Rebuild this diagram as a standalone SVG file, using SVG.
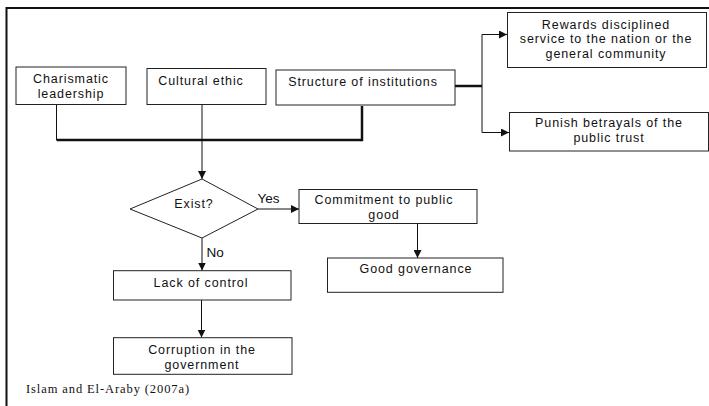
<svg xmlns="http://www.w3.org/2000/svg" width="709" height="406" viewBox="0 0 709 406">
<style>
.box{fill:#fff;stroke:#222;stroke-width:1}
.t{font-family:"Liberation Sans",Arial,sans-serif;font-size:12.5px;letter-spacing:0.9px;fill:#111;text-anchor:middle}
.lbl{font-family:"Liberation Sans",Arial,sans-serif;font-size:13.5px;fill:#111}
.c{fill:none;stroke:#111;stroke-width:1}
.thick{fill:none;stroke:#111;stroke-width:2.5}
.cite{font-family:"Liberation Serif","Times New Roman",serif;font-size:12.5px;letter-spacing:0.9px;fill:#111}
</style>
<defs>
<marker id="ah" markerUnits="userSpaceOnUse" markerWidth="9" markerHeight="8" refX="8" refY="4" orient="auto">
<path d="M0,0 L8,4 L0,8 Z" fill="#111"/>
</marker>
</defs>
<rect width="709" height="406" fill="#fff"/>
<path d="M6.5,406 V8 H709" fill="none" stroke="#111" stroke-width="2"/>

<g id="connectors">
<line class="c" x1="56.5" y1="104" x2="56.5" y2="140"/>
<line class="thick" x1="56.5" y1="140" x2="362" y2="140"/>
<line class="thick" x1="362" y1="106" x2="362" y2="141.2"/>
<line class="c" x1="202" y1="104" x2="202" y2="179" marker-end="url(#ah)"/>
<line class="thick" x1="455" y1="86" x2="482" y2="86"/>
<path class="c" d="M482,86 V34.5 H507" marker-end="url(#ah)"/>
<path class="c" d="M482,86 V132.5 H509" stroke="#555" marker-end="url(#ah)"/>
<line class="c" x1="258" y1="209" x2="299" y2="209" marker-end="url(#ah)"/>
<line class="c" x1="417.5" y1="223" x2="417.5" y2="258" marker-end="url(#ah)"/>
<line class="c" x1="202" y1="238" x2="202" y2="270.5" marker-end="url(#ah)"/>
<line class="c" x1="201.5" y1="300" x2="201.5" y2="337.5" marker-end="url(#ah)"/>
<text class="lbl" x="257.5" y="202.5">Yes</text>
<text class="lbl" x="206.5" y="256.5">No</text>
</g>

<g id="charismatic">
<rect class="box" x="16" y="67" width="110" height="37.5"/>
<text class="t" x="71" y="83.3">Charismatic</text>
<text class="t" x="71" y="98.3">leadership</text>
</g>
<g id="cultural">
<rect class="box" x="147" y="68.5" width="119" height="36"/>
<text class="t" x="201" y="85">Cultural ethic</text>
</g>
<g id="structure">
<rect class="box" x="276" y="70" width="179" height="35"/>
<text class="t" x="363" y="86">Structure of institutions</text>
</g>
<g id="rewards">
<rect class="box" x="507.5" y="12.5" width="199" height="55"/>
<text class="t" x="606" y="29">Rewards disciplined</text>
<text class="t" x="606" y="43.3">service to the nation or the</text>
<text class="t" x="606" y="57.7">general community</text>
</g>
<g id="punish">
<rect class="box" x="509.5" y="112.5" width="199" height="38.5"/>
<text class="t" x="609" y="126.7">Punish betrayals of the</text>
<text class="t" x="609" y="141.7">public trust</text>
</g>
<g id="exist">
<polygon points="202,179 258,209 202,238 130,209" fill="#fff" stroke="#222" stroke-width="1"/>
<text class="t" x="194" y="208.3">Exist?</text>
</g>
<g id="commitment">
<rect class="box" x="299" y="189.5" width="178" height="34"/>
<text class="t" x="384" y="204">Commitment to public</text>
<text class="t" x="384" y="219.3">good</text>
</g>
<g id="good-governance">
<rect class="box" x="327.5" y="258" width="175.5" height="34.3"/>
<text class="t" x="416" y="273.3">Good governance</text>
</g>
<g id="lack">
<rect class="box" x="113.5" y="270.7" width="177.5" height="29.3"/>
<text class="t" x="201" y="286.7">Lack of control</text>
</g>
<g id="corruption">
<rect class="box" x="113.5" y="337.7" width="178.5" height="36.6"/>
<text class="t" x="202" y="354.3">Corruption in the</text>
<text class="t" x="202" y="369.3">government</text>
</g>
<text class="cite" x="26" y="392.7">Islam and El-Araby (2007a)</text>
</svg>
